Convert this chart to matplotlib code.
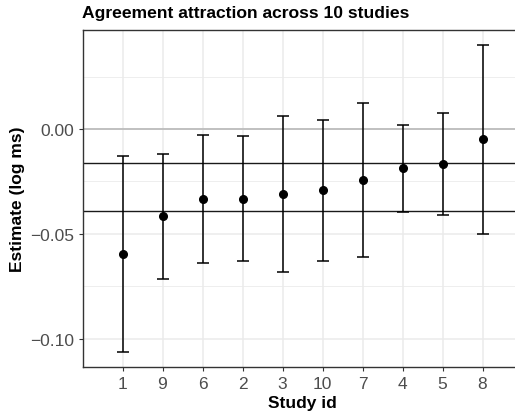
import numpy as np
import matplotlib.pyplot as plt
from matplotlib.ticker import FixedLocator

plt.rcParams['font.family'] = ['Liberation Sans', 'DejaVu Sans']

# study ids in plotted order, with estimates and 95% intervals (log ms)
study_ids = ['1', '9', '6', '2', '3', '10', '7', '4', '5', '8']
estimate = [-0.0595, -0.0416, -0.0335, -0.0332, -0.0308, -0.0292, -0.0243, -0.0187, -0.0167, -0.0049]
lower = [-0.1062, -0.0714, -0.0638, -0.0629, -0.0679, -0.0627, -0.0610, -0.0394, -0.0408, -0.0500]
upper = [-0.0127, -0.0117, -0.0030, -0.0035, 0.0063, 0.0044, 0.0125, 0.0019, 0.0075, 0.0402]
# pooled interval lines
pooled_bounds = [-0.0162, -0.0389]

W, H = 515, 414
fig = plt.figure(figsize=(W / 100, H / 100), dpi=100)
# panel runs past the right edge, like the reference
ax = fig.add_axes([82.5 / W, 45.7 / H, 440 / W, 337.6 / H])

x = np.arange(1, len(study_ids) + 1)
est = np.array(estimate)
lo = np.array(lower)
hi = np.array(upper)

ax.set_xlim(0, 11)
ax.set_ylim(-0.1135, 0.0473)

# grid like ggplot theme_bw
ax.set_xticks(x)
ax.set_xticklabels(study_ids)
ax.yaxis.set_major_locator(FixedLocator([-0.10, -0.05, 0.00]))
ax.yaxis.set_minor_locator(FixedLocator([-0.075, -0.025, 0.025]))
ax.set_yticklabels(['\u22120.10', '\u22120.05', '0.00'])
ax.grid(which='major', color='#EBEBEB', linewidth=1.1)
ax.grid(which='minor', axis='y', color='#EBEBEB', linewidth=0.6)
ax.set_axisbelow(True)

ax.axhline(0, color='#B3B3B3', linewidth=1.1, zorder=1)
for b in pooled_bounds:
    ax.axhline(b, color='#1a1a1a', linewidth=1.0, zorder=2)

ax.errorbar(x, est, yerr=[est - lo, hi - est], fmt='o', color='black',
            markersize=5.5, elinewidth=1.1, capsize=4.5, capthick=1.1, zorder=3)

for s in ax.spines.values():
    s.set_color('#333333')
    s.set_linewidth(1.0)

ax.tick_params(which='major', length=3, color='#333333', labelcolor='#4D4D4D',
               labelsize=12.5, pad=3)
ax.tick_params(which='minor', length=0)

ax.set_xlabel('Study id', fontsize=12.5, fontweight='bold', labelpad=3)
ax.set_ylabel('Estimate (log ms)', fontsize=12.5, fontweight='bold', labelpad=4)
ax.set_title('Agreement attraction across 10 studies', loc='left', fontsize=12.6,
             fontweight='bold', pad=9)

fig.savefig('out.png', dpi=100)
